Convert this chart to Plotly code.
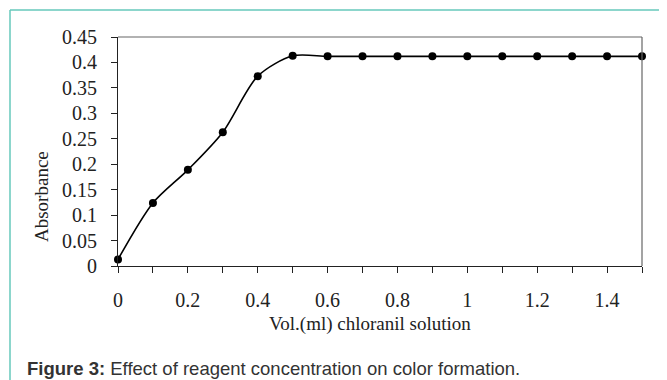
import plotly.graph_objects as go

vol = [0.0, 0.1, 0.2, 0.3, 0.4, 0.5, 0.6, 0.7, 0.8, 0.9, 1.0, 1.1, 1.2, 1.3, 1.4, 1.5]
absorbance = [0.013, 0.124, 0.189, 0.263, 0.373, 0.413, 0.412, 0.412, 0.412, 0.412,
              0.412, 0.412, 0.412, 0.412, 0.412, 0.412]
x_ticks = [0, 0.2, 0.4, 0.6, 0.8, 1, 1.2, 1.4]
x_tick_labels = ["0", "0.2", "0.4", "0.6", "0.8", "1", "1.2", "1.4"]
y_ticks = [0, 0.05, 0.1, 0.15, 0.2, 0.25, 0.3, 0.35, 0.4, 0.45]
y_tick_labels = ["0", "0.05", "0.1", "0.15", "0.2", "0.25", "0.3", "0.35", "0.4", "0.45"]

OFF = 8  # page body margin
W, H = 667 - OFF, 380 - OFF
L, R, T, B = 118 - OFF, 642 - OFF, 37 - OFF, 266 - OFF

fig = go.Figure()
fig.add_trace(go.Scatter(
    x=vol, y=absorbance, mode="lines+markers",
    line=dict(color="black", width=1.6, shape="spline", smoothing=0.8),
    marker=dict(color="black", size=8),
    cliponaxis=False, showlegend=False,
))

serif = "Liberation Serif, Times New Roman, serif"
fig.update_layout(
    width=W, height=H,
    margin=dict(l=L, r=W - R, t=T, b=H - B),
    paper_bgcolor="white", plot_bgcolor="white",
    font=dict(family=serif, color="#222"),
    xaxis=dict(
        range=[0, 1.5], tickvals=x_ticks, ticktext=x_tick_labels,
        ticks="outside", ticklen=6, tickcolor="#222", tickwidth=1,
        minor=dict(dtick=0.1, tick0=0, ticks="outside", ticklen=6, tickcolor="#222"),
        showgrid=False, zeroline=False,
        showline=True, linecolor="#222", linewidth=1.2,
        tickfont=dict(size=20, family=serif, color="#222"),
        ticklabelstandoff=10,
    ),
    yaxis=dict(
        range=[0, 0.45], tickvals=y_ticks, ticktext=y_tick_labels,
        ticks="outside", ticklen=6, tickcolor="#222", tickwidth=1,
        showgrid=False, zeroline=False,
        showline=True, linecolor="#222", linewidth=1.2,
        tickfont=dict(size=20, family=serif, color="#222"),
        ticklabelstandoff=10,
    ),
)

def px_x(p):
    return (p - OFF - L) / (R - L)

def px_y(p):
    return (B - (p - OFF)) / (B - T)

# plot box top & right (gray)
fig.add_shape(type="line", xref="paper", yref="paper", x0=0, x1=1, y0=1, y1=1,
              line=dict(color="#666", width=1.2))
fig.add_shape(type="line", xref="paper", yref="paper", x0=1, x1=1, y0=0, y1=1,
              line=dict(color="#666", width=1.2))

teal = "#66c9bb"
fig.add_shape(type="line", xref="paper", yref="paper",
              x0=px_x(10), x1=px_x(667), y0=px_y(10), y1=px_y(10),
              line=dict(color=teal, width=1.5))
fig.add_shape(type="line", xref="paper", yref="paper",
              x0=px_x(10), x1=px_x(10), y0=px_y(10), y1=px_y(380),
              line=dict(color=teal, width=1.5))

fig.add_annotation(
    xref="paper", yref="paper", x=px_x(370), y=px_y(324),
    xanchor="center", yanchor="middle", showarrow=False,
    text="Vol.(ml) chloranil solution",
    font=dict(family=serif, size=19, color="#222"),
)
fig.add_annotation(
    xref="paper", yref="paper", x=px_x(41), y=px_y(197),
    xanchor="center", yanchor="middle", showarrow=False, textangle=-90,
    text="Absorbance",
    font=dict(family=serif, size=19, color="#222"),
)
fig.add_annotation(
    xref="paper", yref="paper", x=px_x(25), y=px_y(368),
    xanchor="left", yanchor="middle", showarrow=False,
    text="<b>Figure 3:</b> Effect of reagent concentration on color formation.",
    font=dict(family="Liberation Sans, Arial, sans-serif", size=18.5, color="#333"),
)

fig.write_html("out.html")
